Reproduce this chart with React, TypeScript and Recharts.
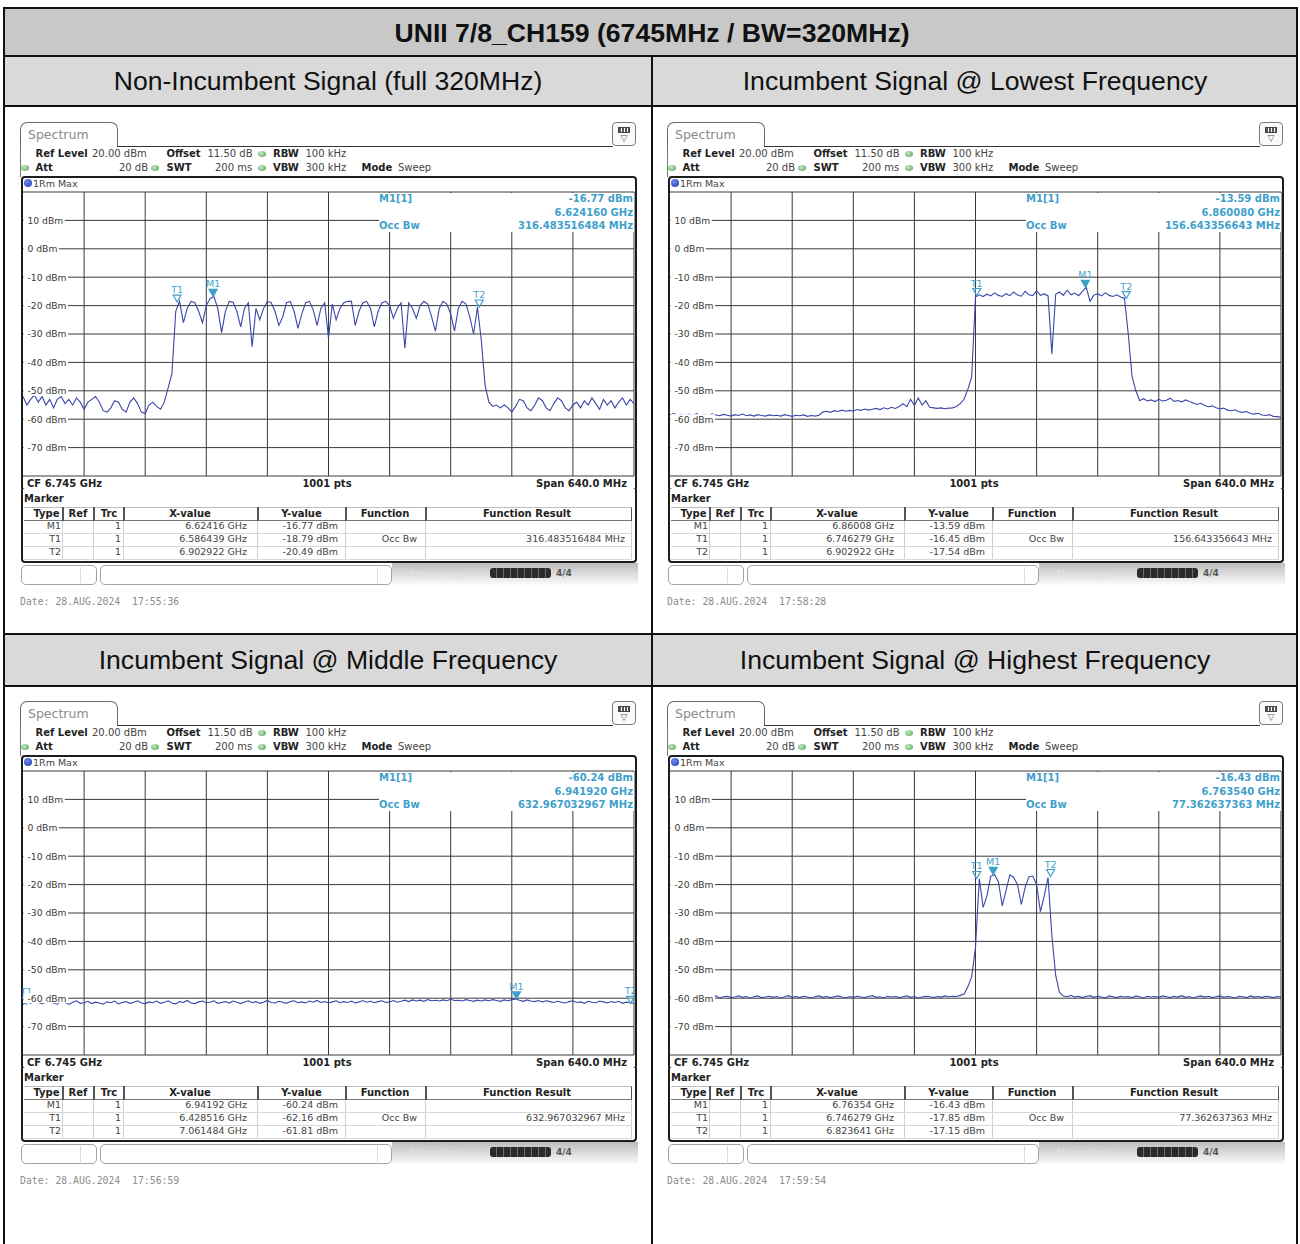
import React from 'react';
import { LineChart, Line, XAxis, YAxis, CartesianGrid, ReferenceDot } from 'recharts';

// ---------- data ----------
const F_START = 6425; // MHz, left edge of span (CF 6745 MHz, span 640 MHz)
const F_STEP = 4; // MHz between read-off trace points
const xGridValues = [6425, 6489, 6553, 6617, 6681, 6745, 6809, 6873, 6937, 7001, 7065];
const yGridValues = [20, 10, 0, -10, -20, -30, -40, -50, -60, -70, -80];
const yTickValues = [10, 0, -10, -20, -30, -40, -50, -60, -70];

const markerNames = ['M1', 'T1', 'T2'];

// Panel 1: Non-Incumbent Signal (full 320MHz)
const p1Level = [
  -52, -55, -53, -51.5, -54, -52, -55, -53, -56, -53,
  -52, -54.5, -53, -55, -52.5, -54, -56.5, -54, -53, -52,
  -54, -57, -57.5, -56, -53.5, -54, -56.5, -57.5, -54, -52.5,
  -54.5, -57.5, -58, -55, -54, -55.5, -56.5, -54, -49, -44,
  -22, -18.5, -26, -21, -18.5, -19, -22, -26, -20, -17.5,
  -16.8, -21, -29.5, -22, -18.5, -18.8, -22, -27.5, -21, -19,
  -34.5, -21, -25, -21, -18.5, -19, -22, -27, -24, -19,
  -18.5, -22, -28, -23, -19, -18.5, -21.5, -27, -21, -19,
  -31.5, -19.5, -25, -21, -19, -18.5, -18.5, -27, -22, -19,
  -18.5, -21, -27.5, -22, -19, -18.5, -20, -24.5, -21, -19,
  -35, -19, -21, -24.5, -20, -18.5, -19.5, -24, -29, -21,
  -18.5, -19.5, -23, -29, -21, -18.5, -19.5, -24, -30, -20.5,
  -32, -48, -54, -55.5, -55, -56, -55, -56, -57.5, -55.5,
  -53, -53.5, -56, -57, -55, -52.5, -53.5, -56, -57, -54.5,
  -52.5, -53.5, -56, -57, -55, -54, -56, -53.5, -55, -52.5,
  -54.5, -56.5, -53, -55, -53.5, -56, -54, -52.5, -55, -53,
  -54.5,
];
const p1MarkerFreq = [6624.16, 6586.439, 6902.922];
const p1MarkerLevel = [-16.77, -18.79, -20.49];
const p1XText = ['6.62416 GHz', '6.586439 GHz', '6.902922 GHz'];
const p1YText = ['-16.77 dBm', '-18.79 dBm', '-20.49 dBm'];

// Panel 2: Incumbent Signal @ Lowest Frequency
const p2Level = [
  -58.5, -58, -58.7, -58.3, -58.8, -58.2, -58.6, -58, -58.9, -58.4,
  -58.7, -58.1, -58.5, -58.8, -58.3, -58.6, -58.9, -58.4, -58.7, -58.2,
  -58.8, -58.5, -58.9, -58.4, -58.7, -58.9, -58.5, -58.8, -58.6, -58.9,
  -58.4, -58.7, -59, -58.6, -58.8, -58.5, -59, -58.7, -58.9, -58.6,
  -57.5, -57.2, -57.6, -57, -57.3, -56.8, -57.2, -56.9, -57.1, -56.6,
  -56.9, -56.4, -56.8, -56.5, -56.2, -56.6, -56, -56.4, -55.8, -56.2,
  -55.5, -54.5, -55.6, -53, -55.2, -52.5, -55, -53.5, -55.8, -56,
  -56.2, -56, -56.3, -56.1, -56, -55.5, -54.5, -53, -49.5, -45,
  -17, -16.2, -16.8, -16, -16.6, -15.5, -16.4, -16.8, -15.8, -16.5,
  -15.2, -16.3, -16.7, -15, -16.2, -16.5, -14.8, -16.4, -15.9, -16.6,
  -37, -16, -15.2, -16.4, -14.6, -16.2, -15.6, -16.5, -15, -13.6,
  -18.5, -16.3, -15.8, -16.6, -15.5, -16.4, -16.8, -16.2, -17, -17.4,
  -30, -45, -50, -53.5, -52.8, -53.6, -53.2, -53.8, -53, -53.6,
  -53.3, -52.6, -53.7, -53.4, -53.9, -53.2, -53.8, -54.3, -54.8, -54.4,
  -55.2, -55.6, -55.3, -56, -56.4, -56.1, -56.8, -57, -56.7, -57.4,
  -57.6, -57.3, -58, -58.2, -57.9, -58.5, -58.7, -58.4, -59, -59.1,
  -59.3,
];
const p2MarkerFreq = [6860.08, 6746.279, 6902.922];
const p2MarkerLevel = [-13.59, -16.45, -17.54];
const p2XText = ['6.86008 GHz', '6.746279 GHz', '6.902922 GHz'];
const p2YText = ['-13.59 dBm', '-16.45 dBm', '-17.54 dBm'];

// Panel 3: Incumbent Signal @ Middle Frequency
const p3Level = [
  -62.2, -61.2, -61.8, -60.9, -61.5, -62, -61.3, -60.8, -61.7, -62.1,
  -61, -61.5, -62.2, -61.4, -60.9, -61.8, -61.6, -61.1, -61.9, -61.4,
  -61.7, -62.1, -61.3, -61.6, -61, -62, -61.5, -61.2, -61.8, -61.4,
  -60.9, -61.7, -61.9, -61.3, -61.6, -61, -61.8, -61.4, -60.9, -61.7,
  -62, -61.2, -61.5, -60.8, -61.7, -61.9, -61.3, -61, -61.6, -61.4,
  -60.9, -61.8, -61.5, -61.2, -61.7, -61, -61.4, -61.9, -61.3, -60.9,
  -61.6, -61.2, -61.8, -61.4, -60.8, -61.5, -61.7, -61.1, -61.4, -61.8,
  -61.2, -60.9, -61.6, -61.3, -61.7, -61, -61.4, -60.8, -61.5, -61.2,
  -61.7, -61.3, -60.9, -61.6, -61.2, -61.5, -61, -61.7, -61.3, -60.8,
  -61.4, -61.1, -61.6, -61.2, -60.9, -61.5, -61.3, -60.8, -61.4, -61.1,
  -60.7, -61.2, -60.6, -61, -60.7, -61.1, -60.5, -60.9, -60.7, -61,
  -60.6, -60.9, -60.4, -60.8, -60.7, -61, -60.5, -60.8, -61.1, -60.7,
  -61, -60.6, -60.9, -60.5, -60.8, -61.1, -60.6, -60.9, -60.5, -60.24,
  -60.7, -61.1, -60.6, -61, -61.2, -60.8, -61.3, -60.9, -61.2, -61.5,
  -61.1, -61.4, -61.7, -61.2, -60.9, -61.5, -61.3, -61.8, -61.1, -61.4,
  -61.6, -61, -61.3, -61.7, -61.2, -61.5, -61.1, -61.8, -61.4, -61.6,
  -61.8,
];
const p3MarkerFreq = [6941.92, 6428.516, 7061.484];
const p3MarkerLevel = [-60.24, -62.16, -61.81];
const p3XText = ['6.94192 GHz', '6.428516 GHz', '7.061484 GHz'];
const p3YText = ['-60.24 dBm', '-62.16 dBm', '-61.81 dBm'];

// Panel 4: Incumbent Signal @ Highest Frequency
const p4Level = [
  -59.6, -59.2, -59.8, -59.4, -59.9, -59.3, -59.7, -59.5, -59.1, -59.8,
  -59.4, -59.7, -59.2, -59.9, -59.5, -59.3, -59.8, -59.6, -59.2, -59.7,
  -59.4, -59.9, -59.5, -59.2, -59.8, -59.6, -59.3, -59.7, -59.4, -59.9,
  -59.5, -59.1, -59.7, -59.4, -59.8, -59.3, -59.6, -59.9, -59.5, -59.2,
  -59.7, -59.4, -59.8, -59.5, -59.2, -59.6, -59.9, -59.4, -59.7, -59.3,
  -59.6, -59.8, -59.4, -59.1, -59.7, -59.5, -59.9, -59.3, -59.6, -59.4,
  -59.8, -59.5, -59.2, -59.7, -59.4, -59.9, -59.6, -59.3, -59.5, -59.8,
  -59.4, -59.6, -59.2, -59.5, -59.3, -59.4, -59, -58.5, -56, -52.5,
  -42, -18, -28, -24, -17, -16.5, -19, -27.5, -22, -16.6,
  -17.5, -20, -27, -21, -17.2, -17, -20, -29.5, -24, -17.5,
  -38, -52, -58, -59.2, -59.5, -59, -59.6, -59.3, -59.8, -59.4,
  -59.1, -59.7, -59.3, -59.6, -59.9, -59.2, -59.5, -59.8, -59.3, -59.6,
  -59.4, -59.8, -59.2, -59.5, -59.9, -59.3, -59.6, -59.4, -59.7, -59.2,
  -59.5, -59.8, -59.3, -59.6, -59.1, -59.7, -59.4, -59.9, -59.5, -59.2,
  -59.6, -59.3, -59.8, -59.5, -59.2, -59.7, -59.4, -59.6, -59.9, -59.3,
  -59.5, -59.8, -59.2, -59.6, -59.4, -59.7, -59.3, -59.5, -59.8, -59.4,
  -59.6,
];
const p4MarkerFreq = [6763.54, 6746.279, 6823.641];
const p4MarkerLevel = [-16.43, -17.85, -17.15];
const p4XText = ['6.76354 GHz', '6.746279 GHz', '6.823641 GHz'];
const p4YText = ['-16.43 dBm', '-17.85 dBm', '-17.15 dBm'];

const titleText = 'UNII 7/8_CH159 (6745MHz / BW=320MHz)';
const panelTitles = [
  'Non-Incumbent Signal (full 320MHz)',
  'Incumbent Signal @ Lowest Frequency',
  'Incumbent Signal @ Middle Frequency',
  'Incumbent Signal @ Highest Frequency',
];
const occBwText = ['316.483516484 MHz', '156.643356643 MHz', '632.967032967 MHz', '77.362637363 MHz'];
const m1FreqText = ['6.624160 GHz', '6.860080 GHz', '6.941920 GHz', '6.763540 GHz'];
const dateText = [
  'Date: 28.AUG.2024  17:55:36',
  'Date: 28.AUG.2024  17:58:28',
  'Date: 28.AUG.2024  17:56:59',
  'Date: 28.AUG.2024  17:59:54',
];

// ---------- styles ----------
const FONT = '"DejaVu Sans", Verdana, sans-serif';
const MONO = '"DejaVu Sans Mono", monospace';
const ARIAL = '"Liberation Sans", Arial, sans-serif';
const TRACE = '#3b46a8';
const MK = '#3f9fcb';

type TP = {
  x: number; y: number; s?: number; b?: boolean; c?: string; a?: 'l' | 'r' | 'c'; f?: string;
  children: React.ReactNode;
};
function T({ x, y, s = 10, b = false, c = '#333', a = 'l', f = FONT, children }: TP) {
  const lh = Math.round(s * 1.3);
  const tx = a === 'l' ? 'none' : a === 'r' ? 'translateX(-100%)' : 'translateX(-50%)';
  return (
    <div
      style={{
        position: 'absolute', left: x, top: y - lh / 2, lineHeight: `${lh}px`, fontSize: s,
        fontWeight: b ? 700 : 400, color: c, fontFamily: f, whiteSpace: 'pre', transform: tx,
      }}
    >
      {children}
    </div>
  );
}

function Box({ l, t, w, h, st }: { l: number; t: number; w: number; h: number; st?: React.CSSProperties }) {
  return <div style={{ position: 'absolute', left: l, top: t, width: w, height: h, boxSizing: 'border-box', ...st }} />;
}

function GDot({ x, y }: { x: number; y: number }) {
  return (
    <div
      style={{
        position: 'absolute', left: x - 4, top: y - 3, width: 8, height: 6, borderRadius: '50%',
        background: 'radial-gradient(circle at 40% 35%, #c4ecc4, #4f9c4f)',
      }}
    />
  );
}

const CW: Record<string, number> = { '-': 0.361, ' ': 0.318, d: 0.635, B: 0.686, m: 0.974 };
function labelWidth(s: string, fs: number) {
  let w = 0;
  for (const ch of s) w += CW[ch] ?? 0.636;
  return w * fs;
}

function YTick(props: any) {
  const { y, payload } = props;
  const label = `${payload.value} dBm`;
  const fs = 9.2;
  const w = labelWidth(label, fs);
  return (
    <g>
      <rect x={1.5} y={y - 5} width={w + 5.5} height={10} fill="#ffffff" />
      <text x={5.5} y={y} dy={3.3} fontSize={fs} fill="#3a3a3a" fontFamily={FONT} textAnchor="start">
        {label}
      </text>
    </g>
  );
}

function MarkerGlyph({ cx, cy, name }: { cx: number; cy: number; name: string }) {
  if (cx == null || cy == null || isNaN(cx) || isNaN(cy)) return null;
  const filled = name.startsWith('M');
  return (
    <g>
      <polygon
        points={`${cx - 4},${cy - 7} ${cx + 4},${cy - 7} ${cx},${cy}`}
        fill={filled ? MK : '#ffffff'}
        fillOpacity={filled ? 1 : 0.2}
        stroke={MK}
        strokeWidth={1.2}
      />
      <text x={cx} y={cy - 9} textAnchor="middle" fontSize={9.5} fill={MK} fontFamily={FONT}>
        {name}
      </text>
    </g>
  );
}

function Trace({ levels, mFreq, mLevel }: { levels: number[]; mFreq: number[]; mLevel: number[] }) {
  const data = levels.map((v, i) => ({ f: F_START + i * F_STEP, v }));
  return (
    <LineChart width={613} height={286} data={data} margin={{ top: 1, right: 1, bottom: 1, left: 1 }}>
      <CartesianGrid
        horizontalValues={yGridValues}
        verticalValues={xGridValues}
        stroke="#3a3a3a"
        strokeWidth={1}
        fill="none"
      />
      <XAxis dataKey="f" type="number" domain={[6425, 7065]} allowDataOverflow hide />
      <YAxis
        type="number"
        domain={[-80, 20]}
        allowDataOverflow
        ticks={yTickValues}
        interval={0}
        mirror
        axisLine={false}
        tickLine={false}
        tick={(p: any) => <YTick {...p} />}
      />
      <Line
        dataKey="v"
        type="linear"
        stroke={TRACE}
        strokeWidth={1.1}
        dot={false}
        activeDot={false}
        isAnimationActive={false}
        zIndex={650}
      />
      {markerNames.map((n, k) => (
        <ReferenceDot
          key={n}
          x={mFreq[k]}
          y={mLevel[k]}
          r={4}
          zIndex={700}
          shape={(p: any) => <MarkerGlyph cx={p.cx} cy={p.cy} name={n} />}
        />
      ))}
    </LineChart>
  );
}

type PanelProps = {
  ox: number; oy: number; idx: number; levels: number[]; mFreq: number[]; mLevel: number[];
  xText: string[]; yText: string[];
};

const colSep = [42, 73, 103, 237, 325, 405];
const rowY = [404, 417, 430];

function Panel({ ox, oy, idx, levels, mFreq, mLevel, xText, yText }: PanelProps) {
  return (
    <div style={{ position: 'absolute', left: ox, top: oy, width: 640, height: 490 }}>
      {/* tab */}
      <Box l={0} t={0} w={98} h={25} st={{ border: '1px solid #6a6a6a', borderBottom: 'none', borderRadius: '7px 7px 0 0', background: '#fff' }} />
      <T x={8} y={12.5} s={12.5} c="#8a8a8a">Spectrum</T>
      <Box l={97} t={24} w={496} h={2} st={{ borderTop: '1.5px solid #333' }} />
      <Box l={0} t={25} w={1} h={30} st={{ background: '#777' }} />
      {/* icon */}
      <Box l={592} t={0} w={24} h={24} st={{ border: '1px solid #7a7a7a', borderRadius: 4, background: '#fafafa' }} />
      <Box l={598} t={5} w={12} h={6} st={{ border: '1px solid #444', background: 'repeating-linear-gradient(90deg,#555 0 2px,#fff 2px 3px)' }} />
      <T x={604} y={16} s={9} c="#555" a="c">▽</T>
      {/* header lines */}
      <T x={15.5} y={31.5} b c="#222">Ref Level</T>
      <T x={72} y={31.5} c="#444">20.00 dBm</T>
      <T x={146.5} y={31.5} b c="#222">Offset</T>
      <T x={187.5} y={31.5} c="#444">11.50 dB</T>
      <GDot x={242} y={31.5} />
      <T x={253} y={31.5} b c="#222">RBW</T>
      <T x={285.5} y={31.5} c="#444">100 kHz</T>
      <GDot x={5} y={45.5} />
      <T x={15.5} y={45.5} b c="#222">Att</T>
      <T x={128} y={45.5} c="#444" a="r">20 dB</T>
      <GDot x={135} y={45.5} />
      <T x={146.5} y={45.5} b c="#222">SWT</T>
      <T x={195} y={45.5} c="#444">200 ms</T>
      <GDot x={242} y={45.5} />
      <T x={253} y={45.5} b c="#222">VBW</T>
      <T x={285.5} y={45.5} c="#444">300 kHz</T>
      <T x={341.5} y={45.5} b c="#222">Mode</T>
      <T x={378} y={45.5} c="#444">Sweep</T>
      {/* graph box */}
      <Box l={1} t={54} w={616} h={315} st={{ border: '2px solid #1d1d1d', borderRadius: 4, background: '#fff' }} />
      <div style={{ position: 'absolute', left: 4, top: 57, width: 8, height: 8, borderRadius: '50%', background: 'radial-gradient(circle at 40% 35%, #6f8cf0, #1a34b0)' }} />
      <T x={13} y={61.5} s={9.5} c="#444">1Rm Max</T>
      <div style={{ position: 'absolute', left: 2, top: 69 }}>
        <Trace levels={levels} mFreq={mFreq} mLevel={mLevel} />
      </div>
      {/* marker info box */}
      <Box l={358.5} t={71} w={255.5} h={39} st={{ background: '#fff' }} />
      <T x={359} y={76.5} b c={MK}>M1[1]</T>
      <T x={613} y={76.5} b c={MK} a="r">{yText[0]}</T>
      <T x={613} y={90} b c={MK} a="r">{m1FreqText[idx]}</T>
      <T x={359} y={103.5} b c={MK}>Occ Bw</T>
      <T x={613} y={103.5} b c={MK} a="r">{occBwText[idx]}</T>
      {/* CF row */}
      <T x={7} y={361} b c="#222">CF 6.745 GHz</T>
      <T x={307} y={361} b c="#222" a="c">1001 pts</T>
      <T x={607} y={361} b c="#222" a="r">Span 640.0 MHz</T>
      {/* marker table */}
      <Box l={1} t={367} w={616} h={74} st={{ border: '2px solid #1d1d1d', borderTop: 'none', borderRadius: '0 0 4px 4px', background: '#fff' }} />
      <T x={4} y={376} b c="#222">Marker</T>
      <Box l={4} t={385} w={608} h={13.5} st={{ borderTop: '1px solid #bdbdbd', borderBottom: '1px solid #777', borderRight: '1.5px solid #555' }} />
      {colSep.map((x) => (
        <Box key={'h' + x} l={x} t={385} w={1.5} h={13.5} st={{ background: '#555' }} />
      ))}
      {colSep.map((x) => (
        <Box key={'d' + x} l={x} t={398.5} w={1} h={38} st={{ background: '#cfcfcf' }} />
      ))}
      <Box l={611} t={398.5} w={1} h={38} st={{ background: '#cfcfcf' }} />
      {[410.5, 423.5, 436.5].map((y) => (
        <Box key={'r' + y} l={4} t={y} w={608} h={1} st={{ background: '#d8d8d8' }} />
      ))}
      <T x={26.5} y={391.5} b c="#222" a="c">Type</T>
      <T x={58} y={391.5} b c="#222" a="c">Ref</T>
      <T x={89} y={391.5} b c="#222" a="c">Trc</T>
      <T x={170} y={391.5} b c="#222" a="c">X-value</T>
      <T x={281.5} y={391.5} b c="#222" a="c">Y-value</T>
      <T x={365} y={391.5} b c="#222" a="c">Function</T>
      <T x={507} y={391.5} b c="#222" a="c">Function Result</T>
      {markerNames.map((n, k) => (
        <React.Fragment key={n}>
          <T x={41} y={rowY[k]} s={9.5} c="#444" a="r">{n}</T>
          <T x={101} y={rowY[k]} s={9.5} c="#444" a="r">1</T>
          <T x={227} y={rowY[k]} s={9.5} c="#444" a="r">{xText[k]}</T>
          <T x={318} y={rowY[k]} s={9.5} c="#444" a="r">{yText[k]}</T>
        </React.Fragment>
      ))}
      <T x={397} y={rowY[1]} s={9.5} c="#444" a="r">Occ Bw</T>
      <T x={605} y={rowY[1]} s={9.5} c="#444" a="r">{occBwText[idx]}</T>
      {/* status bar */}
      <Box l={372} t={441} w={246} h={22} st={{ background: 'linear-gradient(to bottom, #bdbdbd, #fbfbfb)' }} />
      <Box l={1} t={443} w={76} h={20} st={{ border: '1px solid #a5a5a5', borderRadius: 5, background: '#fff' }} />
      <Box l={60} t={445} w={1} h={16} st={{ background: '#ddd' }} />
      <Box l={80} t={443} w={292} h={20} st={{ border: '1px solid #a5a5a5', borderRadius: 5, background: '#fff' }} />
      <Box l={357} t={445} w={1} h={16} st={{ background: '#ddd' }} />
      <T x={390} y={452} s={9.5} c="#e2e2e2">Measuring...</T>
      <Box l={470} t={446} w={61} h={10} st={{ borderRadius: 3, background: 'repeating-linear-gradient(90deg,#2b2b2b 0 6px,#6a6a6a 6px 7px)' }} />
      <T x={536} y={451} s={9} b c="#555">4/4</T>
      {/* date */}
      <T x={0} y={479} s={9.8} c="#8c8c8c" f={MONO}>{dateText[idx]}</T>
    </div>
  );
}

export default function App() {
  return (
    <div style={{ position: 'relative', width: 1300, height: 1244, background: '#fff', overflow: 'hidden' }}>
      <style>{'body{margin:0;}'}</style>
      {/* row backgrounds */}
      <Box l={4} t={8} w={1293} h={48} st={{ background: '#c8c8c8' }} />
      <Box l={4} t={56} w={1293} h={50} st={{ background: '#d9d9d9' }} />
      <Box l={4} t={633} w={1293} h={53} st={{ background: '#d9d9d9' }} />
      {/* grid lines of the outer table */}
      <Box l={3} t={7} w={1295} h={2} st={{ background: '#111' }} />
      <Box l={3} t={55} w={1295} h={2} st={{ background: '#111' }} />
      <Box l={3} t={104.5} w={1295} h={2} st={{ background: '#111' }} />
      <Box l={3} t={632.5} w={1295} h={2} st={{ background: '#111' }} />
      <Box l={3} t={684.5} w={1295} h={2} st={{ background: '#111' }} />
      <Box l={3} t={7} w={2} h={1240} st={{ background: '#111' }} />
      <Box l={1296} t={7} w={2} h={1240} st={{ background: '#111' }} />
      <Box l={651} t={55} w={2} h={1192} st={{ background: '#111' }} />
      {/* headers */}
      <T x={652} y={33} s={26.6} b c="#111" a="c" f={ARIAL}>{titleText}</T>
      <T x={328} y={81.5} s={26.6} c="#111" a="c" f={ARIAL}>{panelTitles[0]}</T>
      <T x={975} y={81.5} s={26.6} c="#111" a="c" f={ARIAL}>{panelTitles[1]}</T>
      <T x={328} y={660.5} s={26.6} c="#111" a="c" f={ARIAL}>{panelTitles[2]}</T>
      <T x={975} y={660.5} s={26.6} c="#111" a="c" f={ARIAL}>{panelTitles[3]}</T>
      {/* panels */}
      <Panel ox={20} oy={122} idx={0} levels={p1Level} mFreq={p1MarkerFreq} mLevel={p1MarkerLevel} xText={p1XText} yText={p1YText} />
      <Panel ox={667} oy={122} idx={1} levels={p2Level} mFreq={p2MarkerFreq} mLevel={p2MarkerLevel} xText={p2XText} yText={p2YText} />
      <Panel ox={20} oy={701} idx={2} levels={p3Level} mFreq={p3MarkerFreq} mLevel={p3MarkerLevel} xText={p3XText} yText={p3YText} />
      <Panel ox={667} oy={701} idx={3} levels={p4Level} mFreq={p4MarkerFreq} mLevel={p4MarkerLevel} xText={p4XText} yText={p4YText} />
    </div>
  );
}
